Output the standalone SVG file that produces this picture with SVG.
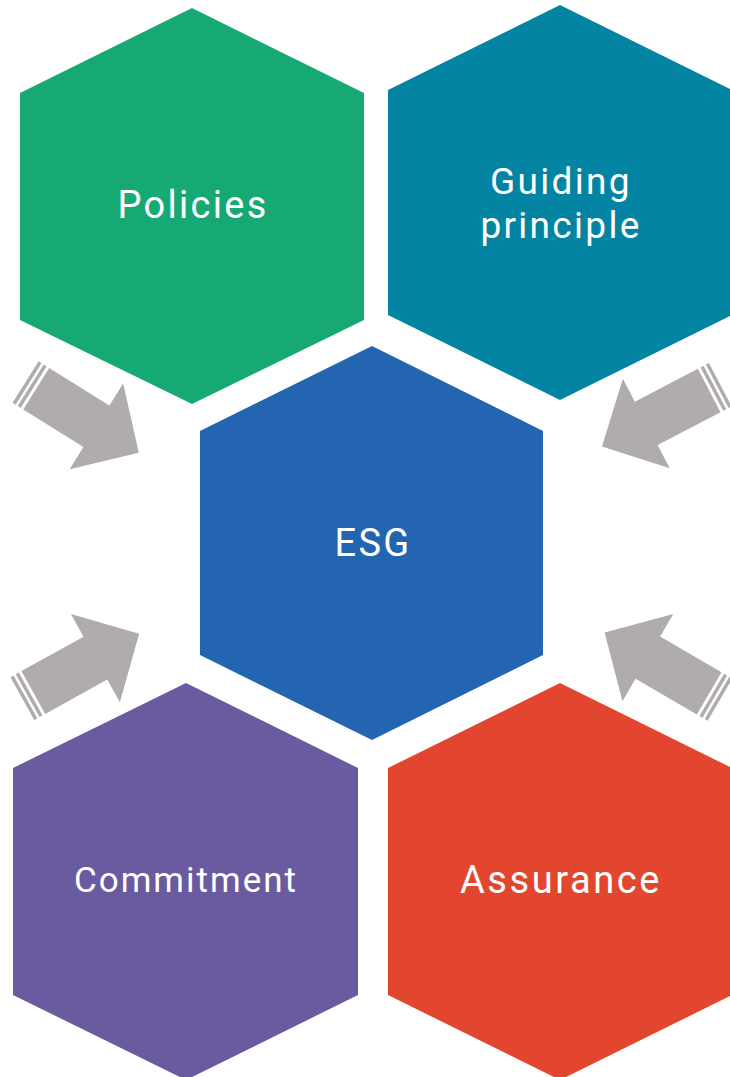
<svg xmlns="http://www.w3.org/2000/svg" xmlns:xlink="http://www.w3.org/1999/xlink" width="730" height="1077" viewBox="0 0 730 1077">
<style>
.lbl{font-family:Roboto,"Open Sans","DejaVu Sans",sans-serif;fill:#ffffff;text-anchor:middle;font-size:38px;letter-spacing:2.3px}
.arr{fill:#b0acac}
</style>
<defs>
<g id="arrow">
<path class="arr" d="M0,-24.5 H71 V-50.5 L121,0 L71,50.5 V24.5 H0 Z"/>
<rect class="arr" x="-6.5" y="-24.5" width="3.5" height="49"/>
<rect class="arr" x="-12.5" y="-24.5" width="3.5" height="49"/>
</g>
</defs>
<rect width="730" height="1077" fill="#ffffff"/>
<g id="policies">
<polygon points="192,8 364,93 364,320 192,404 20,320 20,93" fill="#17a974"/>
<text class="lbl" x="193" y="218">Policies</text>
</g>
<g id="guiding">
<polygon points="560,5 732,90 732,315 560,400 388,315 388,90" fill="#0384a2"/>
<text class="lbl" x="561" y="194" style="font-size:37px">Guiding</text>
<text class="lbl" x="561" y="238" style="font-size:37px">principle</text>
</g>
<g id="esg">
<polygon points="372,346 543,431 543,655 372,740 200,655 200,431" fill="#2465b2"/>
<text class="lbl" x="373" y="556">ESG</text>
</g>
<g id="commitment">
<polygon points="186,683 358,768 358,995 186,1080 13,995 13,768" fill="#6a5a9f"/>
<text class="lbl" x="186" y="892" style="font-size:35px;letter-spacing:2px">Commitment</text>
</g>
<g id="assurance">
<polygon points="560,683 732,768 732,995 560,1080 388,995 388,768" fill="#e3462e"/>
<text class="lbl" x="561" y="893" style="letter-spacing:2.6px">Assurance</text>
</g>
<g id="connectors">
<use xlink:href="#arrow" transform="translate(36.2,388.7) rotate(32)"/>
<use xlink:href="#arrow" transform="translate(709.2,390.5) rotate(152.4)"/>
<use xlink:href="#arrow" transform="translate(33.3,692.5) rotate(-29)"/>
<use xlink:href="#arrow" transform="translate(709.2,693.3) rotate(-149.8)"/>
</g>
</svg>
